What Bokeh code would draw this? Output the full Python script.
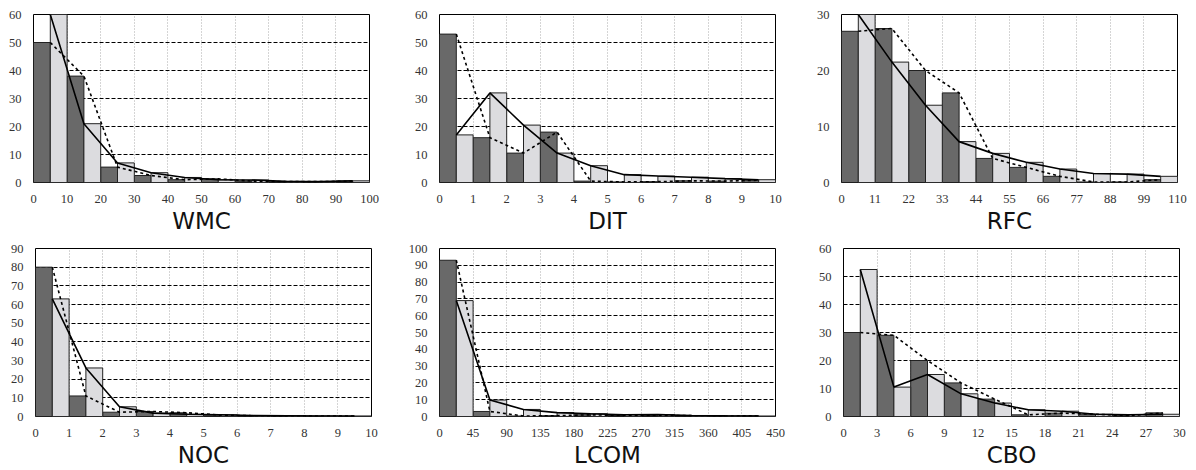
from bokeh.plotting import figure
from bokeh.layouts import column, row
from bokeh.models import Range1d, FixedTicker
from bokeh.embed import file_html
from bokeh.resources import INLINE

# ---- data -------------------------------------------------------------
metrics = ["WMC", "DIT", "RFC", "NOC", "LCOM", "CBO"]
x_max = [100, 10, 110, 10, 450, 30]
x_step = [10, 1, 11, 1, 45, 3]
y_max = [60, 60, 30, 90, 100, 60]

wmc_dark = [50, 38, 5.5, 2.5, 1.0, 1.3, 0.5, 0.3, 0.3, 0.5]
wmc_light = [60, 21, 7, 3.5, 1.8, 1.0, 0.9, 0.4, 0.3, 0.6]
dit_dark = [53, 16, 10.5, 18, 0.5, 0.2, 0.3, 0.6, 0.5, 0.8]
dit_light = [17, 32, 20.5, 10.5, 6, 2.8, 2.3, 1.9, 1.4, 1.0]
rfc_dark = [27, 27.5, 20, 16, 4.3, 2.7, 1.1, 0.1, 0.1, 0.5]
rfc_light = [30, 21.5, 13.8, 7.3, 5.2, 3.6, 2.4, 1.6, 1.5, 1.1]
noc_dark = [80, 11, 2.3, 2.7, 2.0, 0.8, 0.4, 0.3, 0.3, 0.2]
noc_light = [63, 26, 5.2, 1.8, 1.2, 0.9, 0.5, 0.4, 0.3, 0.3]
lcom_dark = [93, 3, 0.3, 0.5, 1.0, 0.6, 0.7, 0.5, 0.3, 0.4]
lcom_light = [69, 9.8, 4.2, 2.3, 1.6, 1.0, 1.1, 0.6, 0.4, 0.3]
cbo_dark = [30, 29, 20, 12, 6.2, 0.6, 1.2, 0.8, 0.3, 1.3]
cbo_light = [52.5, 10.5, 15, 8.1, 4.8, 2.4, 1.9, 0.8, 0.6, 0.8]

dark_vals = [wmc_dark, dit_dark, rfc_dark, noc_dark, lcom_dark, cbo_dark]
light_vals = [wmc_light, dit_light, rfc_light, noc_light, lcom_light, cbo_light]

# ---- layout (left, right, top, bottom borders) -------------------------
borders = [
    (33, 31, 14, 53), (39, 21, 14, 53), (45, 17, 14, 53),
    (35, 29, 12, 52), (39, 21, 12, 52), (47, 15, 12, 52),
]

DARK = "#696969"
LIGHT = "#dcdcdf"
SERIF = "'Liberation Serif', 'Times New Roman', serif"
SANS = "'DejaVu Sans', sans-serif"


def make(i):
    bl, br, bt, bb = borders[i]
    xm, ym = x_max[i], y_max[i]
    bw = xm / 20.0
    p = figure(frame_width=336, frame_height=168,
               x_range=Range1d(0, xm), y_range=Range1d(0, ym),
               output_backend="svg", toolbar_location=None,
               min_border_left=bl, min_border_right=br,
               min_border_top=bt, min_border_bottom=bb)
    p.background_fill_color = "white"
    p.border_fill_color = "white"
    p.outline_line_color = "black"
    p.outline_line_width = 1

    xt = [k * x_step[i] for k in range(11)]
    yt = list(range(0, ym + 1, 10))
    p.xaxis.ticker = FixedTicker(ticks=xt)
    p.yaxis.ticker = FixedTicker(ticks=yt)
    p.xgrid.ticker = FixedTicker(ticks=xt)
    p.ygrid.ticker = FixedTicker(ticks=yt)

    p.xgrid.grid_line_color = "#aaaaaa"
    p.xgrid.grid_line_dash = "1 2"
    p.xgrid.grid_line_width = 1
    p.ygrid.grid_line_color = "black"
    p.ygrid.grid_line_dash = "4 2"
    p.ygrid.grid_line_width = 1

    for ax in (p.xaxis[0], p.yaxis[0]):
        ax.axis_line_color = None
        ax.major_tick_line_color = None
        ax.minor_tick_line_color = None
        ax.major_label_text_font = SERIF
        ax.major_label_text_font_size = "12.5px"
        ax.major_label_text_color = "#333333"
        ax.major_label_standoff = 6
    p.xaxis.axis_label = metrics[i]
    p.xaxis.axis_label_text_font = SANS
    p.xaxis.axis_label_text_font_size = "23px"
    p.xaxis.axis_label_text_font_style = "normal"
    p.xaxis.axis_label_text_color = "#111111"
    p.xaxis.axis_label_standoff = 2

    dv = dark_vals[i]
    lv = light_vals[i]
    n = len(dv)
    d_left = [2 * k * bw for k in range(n)]
    d_right = [(2 * k + 1) * bw for k in range(n)]
    l_left = [(2 * k + 1) * bw for k in range(n)]
    l_right = [(2 * k + 2) * bw for k in range(n)]
    bottoms = [0] * n

    p.quad(left=d_left, right=d_right, bottom=bottoms, top=dv,
           fill_color=DARK, line_color="#222222", line_width=1)
    p.quad(left=l_left, right=l_right, bottom=bottoms, top=lv,
           fill_color=LIGHT, line_color="#222222", line_width=1)

    mid = [(2 * k + 1) * bw for k in range(n)]
    p.line(mid, dv, line_color="black", line_width=1.6, line_dash="3 3")
    p.line(mid, lv, line_color="black", line_width=1.6)
    return p


plots = [make(i) for i in range(6)]
layout = column(row(*plots[:3]), row(*plots[3:]))

open("out.html", "w").write(file_html(layout, INLINE))
